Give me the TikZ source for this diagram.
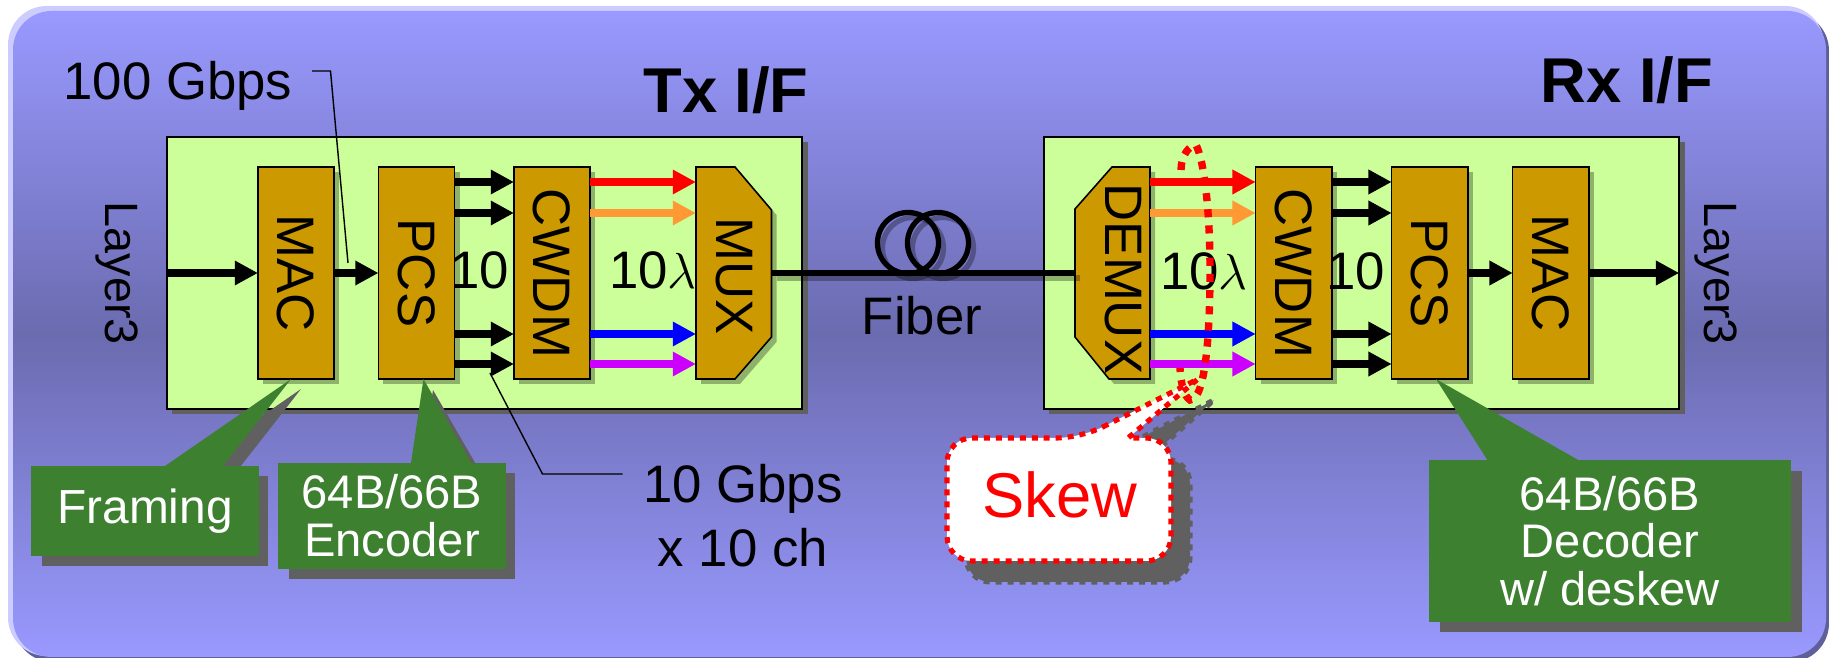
\documentclass[tikz,border=0pt]{standalone}
\usepackage{fontspec}
\setmainfont{Liberation Sans}
\usetikzlibrary{arrows.meta,shadows}
\definecolor{pagelight}{HTML}{9999FF}
\definecolor{pagedark}{HTML}{6B6BB0}
\definecolor{bevellight}{HTML}{CCCCFF}
\definecolor{beveldark}{HTML}{5F5F99}
\definecolor{panelgreen}{HTML}{CCFF99}
\definecolor{blockgold}{HTML}{CC9900}
\definecolor{notegreen}{HTML}{3D8030}
\definecolor{shadegray}{HTML}{606060}
\definecolor{sigorange}{HTML}{FF9933}
\definecolor{sigpurple}{HTML}{CC00FF}
\tikzset{
    panel/.style={draw=black,line width=.55pt,fill=panelgreen,inner sep=0pt,outer sep=0pt,minimum width=6.35cm,minimum height=2.72cm,
        drop shadow={shadow xshift=.055cm,shadow yshift=-.05cm,fill=shadegray,opacity=1}},
    blockshade/.style={draw=black,line width=.45pt,fill=blockgold,
        drop shadow={shadow xshift=.05cm,shadow yshift=-.05cm,fill=black,opacity=.3}},
    block/.style={blockshade,inner sep=0pt,outer sep=0pt,minimum width=.76cm,minimum height=2.12cm,font=\fontsize{15}{18}\selectfont},
    muxbox/.style={inner sep=0pt,outer sep=0pt,minimum width=.755cm,minimum height=2.12cm},
    wire/.style={line width=2pt,-{Triangle[length=6.6pt,width=6.6pt]}},
    fiberline/.style={line width=1.7pt},
    coil/.style={circle,draw=black,line width=1.5pt,inner sep=0pt,minimum size=.61cm},
    leader/.style={draw=black,line width=.4pt},
    tag/.style={font=\fontsize{15}{18}\selectfont,inner sep=0pt},
    note/.style={fill=notegreen,text=white,inner sep=0pt,font=\fontsize{13.4}{13.6}\selectfont,align=center},
    noteshade/.style={fill=shadegray},
    skewline/.style={draw=red,line width=1.45pt,dash pattern=on 1.7pt off 1.7pt},
}
\begin{document}
\begin{tikzpicture}[x=.01cm,y=-.01cm]
    \useasboundingbox (0,0) rectangle (1829,658);
    \fill[beveldark,rounded corners=11pt] (14,12) rectangle (1829,662);
    \fill[bevellight,rounded corners=11pt] (8,6) rectangle (1824,656);
    \shade[rounded corners=11pt,top color=pagelight,bottom color=pagelight,middle color=pagedark] (13,11) rectangle (1826,657);

    \node[panel] (txpanel) at (484.5,273) {};
    \node[panel] (rxpanel) at (1361.5,273) {};

    \node[tag,font=\bfseries\fontsize{18}{20}\selectfont] (txtitle) at (726,90) {Tx I/F};
    \node[tag,font=\bfseries\fontsize{18}{20}\selectfont] (rxtitle) at (1627,80) {Rx I/F};
    \node[tag,anchor=base] (hundred) at (178,100) {100 Gbps};
    \node[tag,anchor=base,font=\fontsize{13.3}{16}\selectfont,rotate=-90] (txlayer) at (106,273.5) {Layer3};
    \node[tag,anchor=base,font=\fontsize{13.3}{16}\selectfont,rotate=-90] (rxlayer) at (1704,273.5) {Layer3};
    \node[tag,align=center,font=\fontsize{15}{18.2}\selectfont] (tengbps) at (743,516) {10 Gbps\\x 10 ch};
    \node[tag,anchor=base] (fiber) at (922,335) {Fiber};

    \node[block] (txmac) at (296,273) {\rotatebox{-90}{MAC}};
    \node[block] (txpcs) at (416.5,273) {\rotatebox{-90}{PCS}};
    \node[block] (txcwdm) at (552,273) {\rotatebox{-90}{CWDM}};
    \draw[blockshade] (696,167) -- (735,167) -- (771.5,210) -- (771.5,337) -- (735,379) -- (696,379) -- cycle;
    \node[muxbox] (txmux) at (733.75,273) {};
    \node[tag] (txmuxtext) at (734,276) {\rotatebox{-90}{MUX}};
    \draw[blockshade] (1150,167) -- (1112,167) -- (1075,209) -- (1075,337) -- (1109,379) -- (1150,379) -- cycle;
    \node[muxbox] (rxdemux) at (1112.5,273) {};
    \node[tag] (rxdemuxtext) at (1123,279) {\rotatebox{-90}{DEMUX}};
    \node[block] (rxcwdm) at (1293.7,273) {\rotatebox{-90}{CWDM}};
    \node[block] (rxpcs) at (1429.7,273) {\rotatebox{-90}{PCS}};
    \node[block] (rxmac) at (1550.7,273) {\rotatebox{-90}{MAC}};

    \node[tag,anchor=base] (txten) at (480,289) {10};
    \node[tag,anchor=base] (txlambda) at (653,289) {10$\lambda$};
    \node[tag,anchor=base] (rxlambda) at (1204,290) {10$\lambda$};
    \node[tag,anchor=base] (rxten) at (1356,290) {10};

    \draw[wire] (txpanel.west) -- (txmac);
    \draw[wire] (txmac) -- (txpcs);
    \draw[wire] (rxpcs) -- (rxmac);
    \draw[wire] (rxmac) -- (rxpanel.east);
    \foreach \ya in {182,213,334,364} {
        \draw[wire] (txpcs.east |- 0,\ya) -- (txcwdm.west |- 0,\ya);
        \draw[wire] (rxcwdm.east |- 0,\ya) -- (rxpcs.west |- 0,\ya);
    }
    \foreach \ya/\wirecol in {182/red,213/sigorange,334/blue,364/sigpurple} {
        \draw[wire,draw=\wirecol] (txcwdm.east |- 0,\ya) -- (txmux.west |- 0,\ya);
        \draw[wire,draw=\wirecol] (rxdemux.east |- 0,\ya) -- (rxcwdm.west |- 0,\ya);
    }

    \draw[fiberline,black,opacity=.3] ([shift={(5,5)}]txmux.east) -- ([shift={(5,5)}]rxdemux.west);
    \node[coil,draw opacity=.3] at (913,248) {};
    \node[coil,draw opacity=.3] at (943,248) {};
    \node[coil] (coilleft) at (908,243) {};
    \node[coil] (coilright) at (938,243) {};
    \draw[fiberline] (txmux) -- (rxdemux);

    \coordinate (hundredbend) at (330.5,71);
    \coordinate (hundredtip) at (348,263);
    \coordinate (tentip) at (490,373);
    \coordinate (tenbend) at (542.5,474);
    \coordinate (skewtip) at (1198,379);
    \draw[leader] ([shift={(19,-29)}]hundred.base east) -- (hundredbend) -- (hundredtip);
    \draw[leader] (tentip) -- (tenbend) -- ([shift={(-20,-42)}]tengbps.west);

    \fill[noteshade] (175,476) -- (301,389) -- (233,476) -- cycle;
    \fill[noteshade] (421,473) -- (433,390) -- (481,473) -- cycle;
    \fill[noteshade] (41.5,476) rectangle (268,566);
    \fill[noteshade] (288.5,473) rectangle (515,579);
    \fill[noteshade] (1440,471) rectangle (1802,632);

    \fill[notegreen] (165,466) -- (txmac.south -| 291,0) -- (223,466) -- cycle;
    \fill[notegreen] (411,463) -- (txpcs.south -| 423.5,0) -- (471,463) -- cycle;
    \fill[notegreen] (1488,461) -- (rxpcs.south -| 1436,0) -- (1580,461) -- cycle;
    \node[note,minimum width=2.27cm,minimum height=.9cm,font=\fontsize{13.6}{14}\selectfont] (framing) at (145,511) {Framing};
    \node[note,minimum width=2.27cm,minimum height=1.06cm] (encoder) at (392,516) {64B/66B\\Encoder};
    \node[note,minimum width=3.61cm,minimum height=1.61cm] (decoder) at (1610,541) {64B/66B\\Decoder\\w/ deskew};

    \draw[skewline,line width=2.1pt,dash pattern=on 2.3pt off 2.3pt] (1181,170) .. controls (1181,155) and (1190,145) .. (1196,145) .. controls (1204,160) and (1210,210) .. (1210,270) .. controls (1210,330) and (1206,400) .. (1190,400) .. controls (1184,396) and (1181,385) .. (1180,368);

    \draw[noteshade,draw=shadegray,line width=1.45pt,dash pattern=on 1.7pt off 1.7pt] (1100,459) -- (1214,400) -- (1147,459) [rounded corners=7pt] -- (1190,459) -- (1190,582) -- (966,582) -- (966,459) -- cycle;
    \fill[white] (1081,438) -- (skewtip) -- (1128,438) [rounded corners=7pt] -- (1171,438) -- (1171,561) -- (947,561) -- (947,438) -- cycle;
    \draw[skewline] (1081,438) -- (skewtip) -- (1128,438) [rounded corners=7pt] -- (1171,438) -- (1171,561) -- (947,561) -- (947,438) -- cycle;
    \node[tag,text=red,font=\fontsize{18}{20}\selectfont,text depth=2.3pt] (skew) at (1060,499) {Skew};
\end{tikzpicture}
\end{document}
